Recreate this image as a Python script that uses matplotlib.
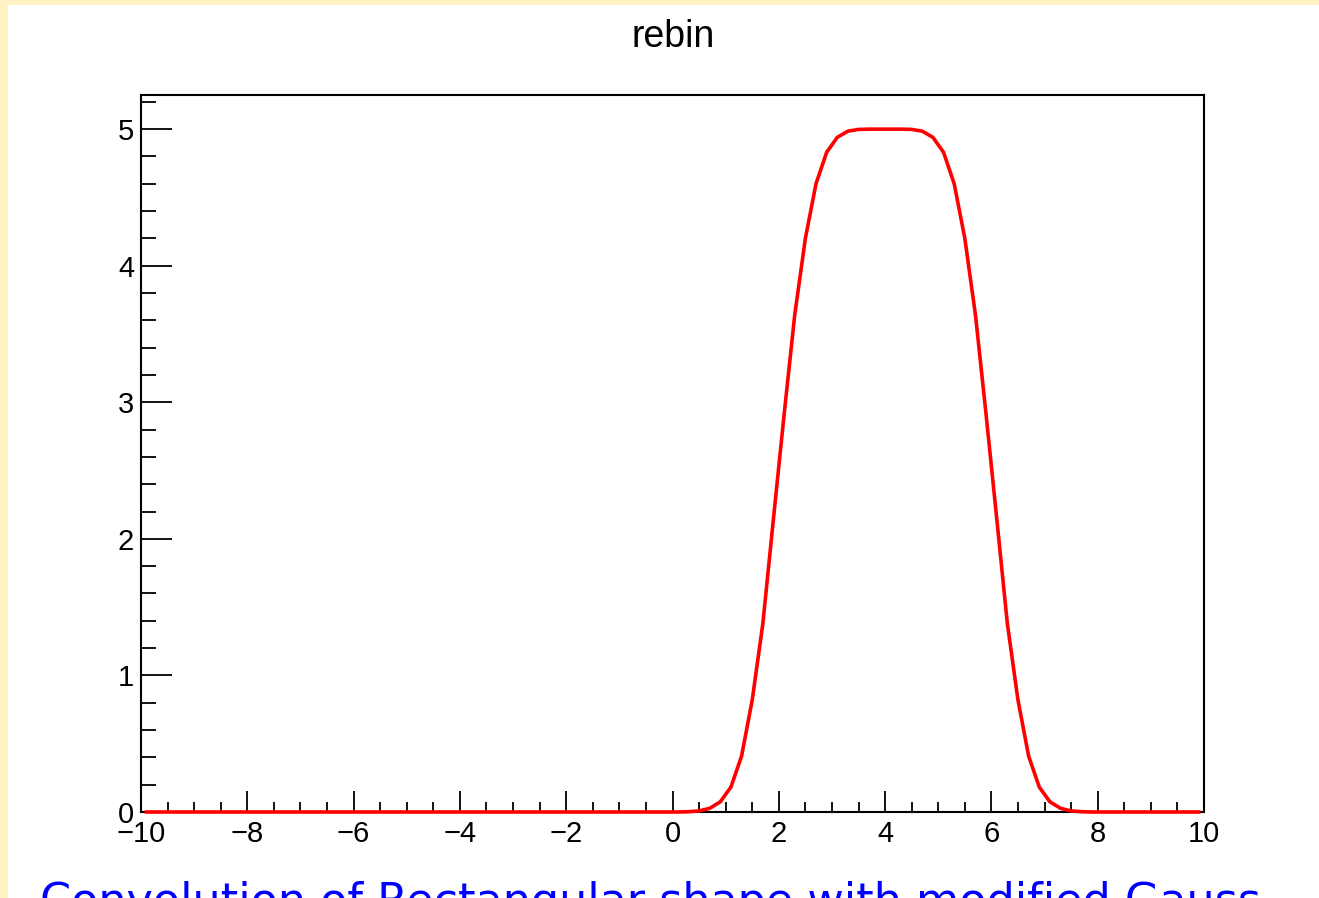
#! /usr/bin/env python3

# import libraries
import numpy as np
import matplotlib
matplotlib.use("Agg")
import matplotlib.pyplot as plt
from matplotlib.patches import Rectangle
from matplotlib.ticker import MultipleLocator


# data: 100 bins from -10 to 10 (bin centres)
bin_lo = -10.0
bin_hi = 10.0
n_bins = 100

# non-zero part, bin centres 0.1 ... 7.9
rise = [0.0, 0.002, 0.008, 0.027, 0.075, 0.183, 0.41, 0.82, 1.38, 2.15,
        2.91, 3.64, 4.20, 4.60, 4.83, 4.94, 4.985, 4.998, 5.0, 5.0]
fall = [5.0, 5.0, 4.998, 4.985, 4.94, 4.83, 4.60, 4.20, 3.64, 2.91,
        2.15, 1.38, 0.82, 0.41, 0.183, 0.075, 0.027, 0.008, 0.002, 0.0]
zeros_left = [0.0] * 50
zeros_right = [0.0] * 10
values = zeros_left + rise + fall + zeros_right

title = "rebin"
caption = "Convolution of Rectangular shape with modified Gauss"


# set matplotlib parameters
plt.rcParams["font.family"] = ["Liberation Sans", "DejaVu Sans"]
plt.rcParams["font.size"] = 21
plt.rcParams["figure.dpi"] = 100
plt.rcParams["figure.facecolor"] = "white"
plt.rcParams["axes.linewidth"] = 1.5


# setup figure
W, H = 1319, 898
fig = plt.figure(figsize=(W / 100, H / 100))

# cream frame on left and top
fig.patches.append(Rectangle((0, 0), 8 / W, 1, transform=fig.transFigure,
                             facecolor="#fff3c4", edgecolor="none", zorder=0))
fig.patches.append(Rectangle((0, 1 - 5 / H), 1, 5 / H, transform=fig.transFigure,
                             facecolor="#fff3c4", edgecolor="none", zorder=0))

ax = fig.add_axes([141 / W, (H - 812) / H, (1204 - 141) / W, (812 - 95) / H])

centres = np.linspace(bin_lo, bin_hi, n_bins + 1)
centres = 0.5 * (centres[:-1] + centres[1:])
ax.plot(centres, values, color="#ff0000", lw=2.6, zorder=3, clip_on=False)

ax.set_xlim(bin_lo, bin_hi)
ax.set_ylim(0, 5.25)

ax.xaxis.set_major_locator(MultipleLocator(2))
ax.xaxis.set_minor_locator(MultipleLocator(0.5))
ax.yaxis.set_major_locator(MultipleLocator(1))
ax.yaxis.set_minor_locator(MultipleLocator(0.2))

ax.tick_params(axis="x", which="major", direction="in", length=15, width=1.3, pad=6)
ax.tick_params(axis="x", which="minor", direction="in", length=7.5, width=1.3)
ax.tick_params(axis="y", which="major", direction="in", length=22, width=1.3, pad=5)
ax.tick_params(axis="y", which="minor", direction="in", length=11, width=1.3)
ax.tick_params(top=False, right=False, which="both")

fig.text(673 / W, 1 - 37 / H, title, ha="center", va="center", fontsize=27)
fig.text(40 / W, 1 - 881 / H, caption, ha="left", va="top", fontsize=32,
         color="#0000ff", family=["DejaVu Sans"])

fig.savefig("out.png", dpi=100)
